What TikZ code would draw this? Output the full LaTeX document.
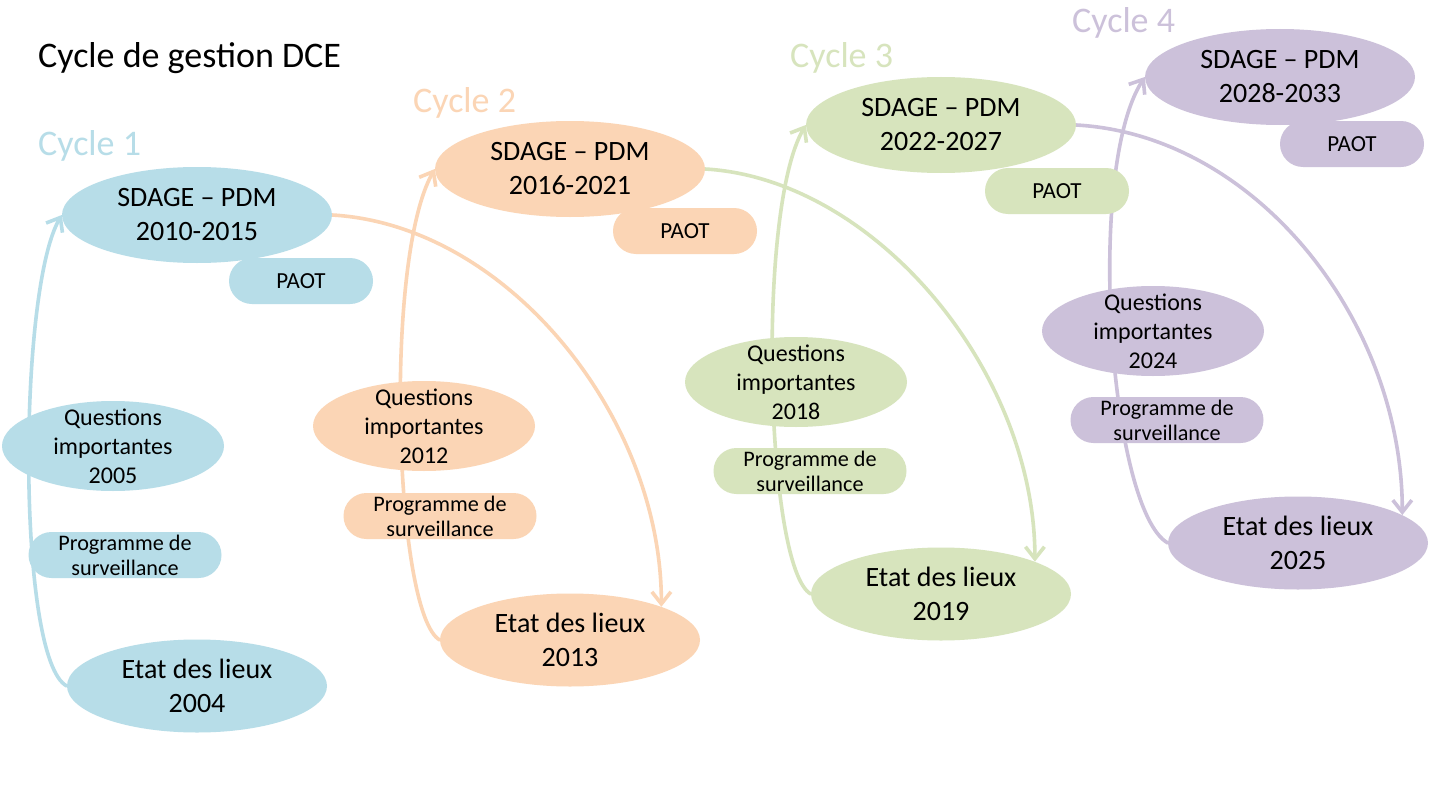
\documentclass[tikz,border=0pt]{standalone}
\usepackage{fontspec}
\setmainfont{Carlito}
\usetikzlibrary{shapes.geometric,arrows.meta,backgrounds}
\definecolor{cblue}{HTML}{B7DDE8}
\definecolor{corange}{HTML}{FBD5B5}
\definecolor{cgreen}{HTML}{D7E4BD}
\definecolor{cpurple}{HTML}{CCC1DA}
\begin{document}
\begin{tikzpicture}[x=1pt,y=-1pt,
  ttl/.style={anchor=base west,inner sep=0pt,font=\fontsize{36}{42}\selectfont},
  bigtxt/.style={inner sep=0pt,align=center,font=\fontsize{28}{34}\selectfont},
  midtxt/.style={inner sep=0pt,align=center,font=\fontsize{24}{29}\selectfont},
  smalltxt/.style={inner sep=0pt,align=center,font=\fontsize{22.2}{25}\selectfont},
  paottxt/.style={inner sep=0pt,align=center,font=\fontsize{23}{25}\selectfont},
  sdagebox/.style={ellipse,inner sep=0pt,fill=#1,minimum width=270pt,minimum height=96pt},
  etatbox/.style={ellipse,inner sep=0pt,fill=#1,minimum width=260pt,minimum height=93pt},
  questbox/.style={ellipse,inner sep=0pt,fill=#1,minimum width=222pt,minimum height=90pt},
  progbox/.style={rectangle,rounded corners=23pt,inner sep=0pt,fill=#1,minimum width=193pt,minimum height=46pt},
  paotbox/.style={rectangle,rounded corners=23pt,inner sep=0pt,fill=#1,minimum width=144pt,minimum height=46pt},
  conn/.style={draw=#1,line width=3.6pt,line cap=round,-{Straight Barb[length=12pt,width=19pt]}}
]
\useasboundingbox (0,0) rectangle (1430,800);

% titles
\node[ttl] (title) at (38,68) {Cycle de gestion DCE};
\node[ttl,text=cblue] (c1) at (38,155) {Cycle 1};
\node[ttl,text=corange] (c2) at (413,113) {Cycle 2};
\node[ttl,text=cgreen] (c3) at (790,67) {Cycle 3};
\node[ttl,text=cpurple] (c4) at (1072,33) {Cycle 4};

% cycle 1
\node[sdagebox=cblue] (s1) at (197,215) {};
\node[paotbox=cblue] (p1) at (301,281) {};
\node[questbox=cblue] (q1) at (113,446) {};
\node[progbox=cblue] (g1) at (125,555) {};
\node[etatbox=cblue] (e1) at (197,686) {};
% cycle 2
\node[sdagebox=corange] (s2) at (570,169) {};
\node[paotbox=corange] (p2) at (685,231) {};
\node[questbox=corange] (q2) at (424,426) {};
\node[progbox=corange] (g2) at (440,516) {};
\node[etatbox=corange] (e2) at (570,640) {};
% cycle 3
\node[sdagebox=cgreen] (s3) at (941,125) {};
\node[paotbox=cgreen] (p3) at (1057,191) {};
\node[questbox=cgreen] (q3) at (796,382) {};
\node[progbox=cgreen] (g3) at (810,471) {};
\node[etatbox=cgreen] (e3) at (941,594) {};
% cycle 4
\node[sdagebox=cpurple] (s4) at (1280,77) {};
\node[paotbox=cpurple] (p4) at (1352,144) {};
\node[questbox=cpurple] (q4) at (1153,331) {};
\node[progbox=cpurple] (g4) at (1167,420) {};
\node[etatbox=cpurple] (e4) at (1298,543) {};

% texts
\node[bigtxt] (s1t) at (s1) {SDAGE – PDM\\2010-2015};
\node[paottxt] (p1t) at (p1) {PAOT};
\node[midtxt] (q1t) at (q1) {Questions\\importantes\\2005};
\node[smalltxt] (g1t) at (g1) {Programme de\\surveillance};
\node[bigtxt] (e1t) at (e1) {Etat des lieux\\2004};

\node[bigtxt] (s2t) at (s2) {SDAGE – PDM\\2016-2021};
\node[paottxt] (p2t) at (p2) {PAOT};
\node[midtxt] (q2t) at (q2) {Questions\\importantes\\2012};
\node[smalltxt] (g2t) at (g2) {Programme de\\surveillance};
\node[bigtxt] (e2t) at (e2) {Etat des lieux\\2013};

\node[bigtxt] (s3t) at (s3) {SDAGE – PDM\\2022-2027};
\node[paottxt] (p3t) at (p3) {PAOT};
\node[midtxt] (q3t) at (q3) {Questions\\importantes\\2018};
\node[smalltxt] (g3t) at (g3) {Programme de\\surveillance};
\node[bigtxt] (e3t) at (e3) {Etat des lieux\\2019};

\node[bigtxt] (s4t) at (s4) {SDAGE – PDM\\2028-2033};
\node[paottxt] (p4t) at (p4) {PAOT};
\node[midtxt] (q4t) at (q4) {Questions\\importantes\\2024};
\node[smalltxt] (g4t) at (g4) {Programme de\\surveillance};
\node[bigtxt] (e4t) at (e4) {Etat des lieux\\2025};

% connectors behind the shapes
\begin{pgfonlayer}{background}
\fill[white] (0,0) rectangle (1430,800);
\draw[conn=cblue] (e1.west) .. controls +(-50,-26) and +(-44,75) .. (s1.west);
\draw[conn=corange] (e2.west) .. controls +(-45,-25) and +(-52,92) .. (s2.west);
\draw[conn=cgreen] (e3.west) .. controls +(-45,-25) and +(-50,85) .. (s3.west);
\draw[conn=cpurple] (e4.west) .. controls +(-58,-33) and +(-60,93) .. (s4.west);

\draw[conn=corange] (s1.east) .. controls +(175,10) and +(0,-190) .. (e2.20);
\draw[conn=cgreen] (s2.east) .. controls +(170,10) and +(0,-190) .. (e3.19);
\draw[conn=cpurple] (s3.east) .. controls +(180,10) and +(0,-194) .. (e4.15);
\end{pgfonlayer}
\end{tikzpicture}
\end{document}
